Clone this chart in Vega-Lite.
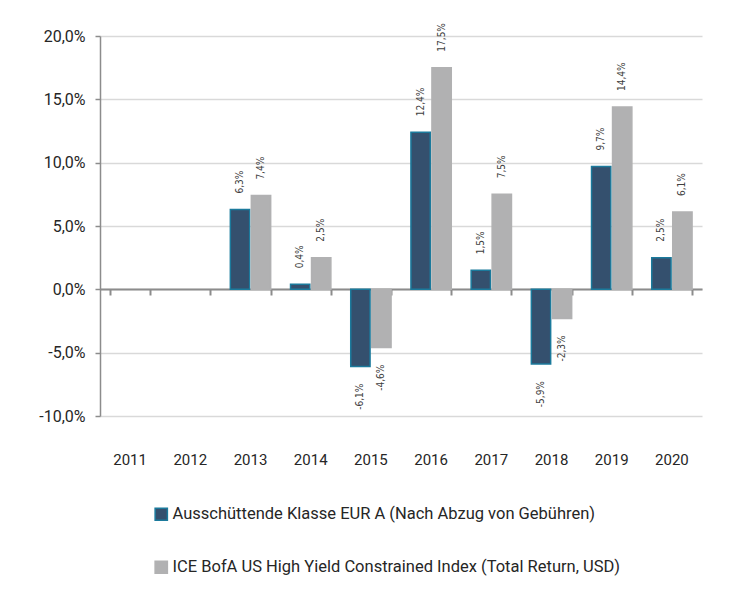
{
  "$schema": "https://vega.github.io/schema/vega-lite/v6.json",
  "width": 602,
  "height": 380,
  "autosize": {"type": "none"},
  "padding": {"left": 100, "top": 36, "right": 42, "bottom": 176},
  "config": {
    "locale": {"number": {"decimal": ",", "thousands": ".", "grouping": [3], "currency": ["", " €"], "minus": "-"}},
    "font": "Roboto",
    "view": {"stroke": null}
  },
  "data": {
    "values": [
      {"year": "2013", "series": "Ausschüttende Klasse EUR A (Nach Abzug von Gebühren)", "value": 0.063},
      {"year": "2013", "series": "ICE BofA US High Yield Constrained Index (Total Return, USD)", "value": 0.074},
      {"year": "2014", "series": "Ausschüttende Klasse EUR A (Nach Abzug von Gebühren)", "value": 0.004},
      {"year": "2014", "series": "ICE BofA US High Yield Constrained Index (Total Return, USD)", "value": 0.025},
      {"year": "2015", "series": "Ausschüttende Klasse EUR A (Nach Abzug von Gebühren)", "value": -0.061},
      {"year": "2015", "series": "ICE BofA US High Yield Constrained Index (Total Return, USD)", "value": -0.046},
      {"year": "2016", "series": "Ausschüttende Klasse EUR A (Nach Abzug von Gebühren)", "value": 0.124},
      {"year": "2016", "series": "ICE BofA US High Yield Constrained Index (Total Return, USD)", "value": 0.175},
      {"year": "2017", "series": "Ausschüttende Klasse EUR A (Nach Abzug von Gebühren)", "value": 0.015},
      {"year": "2017", "series": "ICE BofA US High Yield Constrained Index (Total Return, USD)", "value": 0.075},
      {"year": "2018", "series": "Ausschüttende Klasse EUR A (Nach Abzug von Gebühren)", "value": -0.059},
      {"year": "2018", "series": "ICE BofA US High Yield Constrained Index (Total Return, USD)", "value": -0.023},
      {"year": "2019", "series": "Ausschüttende Klasse EUR A (Nach Abzug von Gebühren)", "value": 0.097},
      {"year": "2019", "series": "ICE BofA US High Yield Constrained Index (Total Return, USD)", "value": 0.144},
      {"year": "2020", "series": "Ausschüttende Klasse EUR A (Nach Abzug von Gebühren)", "value": 0.025},
      {"year": "2020", "series": "ICE BofA US High Yield Constrained Index (Total Return, USD)", "value": 0.061}
    ]
  },
  "resolve": {"axis": {"x": "independent"}},
  "layer": [
    {
      "mark": {"type": "bar", "strokeWidth": 1.5},
      "encoding": {
        "x": {
          "field": "year", "type": "nominal",
          "scale": {"domain": ["2011","2012","2013","2014","2015","2016","2017","2018","2019","2020"], "paddingInner": 0.33, "paddingOuter": 0.165},
          "axis": {"orient": "bottom", "offset": -127, "labels": false, "title": null, "domainColor": "#8c8c8c", "domainWidth": 2, "tickColor": "#8c8c8c", "tickWidth": 2, "tickSize": 6, "tickBand": "extent", "grid": false}
        },
        "xOffset": {"field": "series", "type": "nominal", "scale": {"paddingInner": 0.08}},
        "y": {
          "field": "value", "type": "quantitative",
          "scale": {"domain": [-0.1, 0.2], "nice": false, "zero": false},
          "axis": {"values": [-0.1, -0.05, 0, 0.05, 0.1, 0.15, 0.2], "format": ".1%", "title": null, "grid": true, "gridColor": "#d9d9d9", "gridWidth": 1.5, "domainColor": "#8c8c8c", "domainWidth": 1.5, "tickColor": "#8c8c8c", "tickSize": 5, "tickWidth": 1.5, "labelPadding": 10, "labelFontSize": 16, "labelColor": "#262626"}
        },
        "fill": {
          "field": "series", "type": "nominal",
          "scale": {"range": ["#34506e", "#b1b1b2"]},
          "legend": {"orient": "none", "legendX": 53, "legendY": 470, "direction": "vertical", "title": null, "symbolType": "square", "symbolSize": 150, "labelFontSize": 16.5, "labelOffset": 3, "labelColor": "#262626", "rowPadding": 34, "labelLimit": 700, "symbolStrokeWidth": 1.5, "symbolOpacity": 1}
        },
        "stroke": {
          "field": "series", "type": "nominal",
          "scale": {"range": ["#1b7a9c", "#b1b1b2"]},
          "legend": {"orient": "none", "legendX": 53, "legendY": 470, "direction": "vertical", "title": null, "symbolType": "square", "symbolSize": 150, "labelFontSize": 16.5, "labelOffset": 3, "labelColor": "#262626", "rowPadding": 34, "labelLimit": 700, "symbolStrokeWidth": 1.5, "symbolOpacity": 1}
        }
      }
    },
    {
      "transform": [{"filter": "datum.value >= 0"}],
      "mark": {"type": "text", "angle": 270, "align": "left", "baseline": "middle", "dx": 16, "fontSize": 10, "color": "#404040", "font": "DejaVu Sans Condensed"},
      "encoding": {
        "x": {
          "field": "year", "type": "nominal",
          "scale": {"domain": ["2011","2012","2013","2014","2015","2016","2017","2018","2019","2020"], "paddingInner": 0.33, "paddingOuter": 0.165},
          "axis": {"orient": "bottom", "title": null, "domain": false, "ticks": false, "grid": false, "labelAngle": 0, "labelPadding": 36, "labelBaseline": "top", "labelFontSize": 15, "labelColor": "#262626"}
        },
        "xOffset": {"field": "series", "type": "nominal", "scale": {"paddingInner": 0.08}},
        "y": {"field": "value", "type": "quantitative"},
        "text": {"field": "value", "type": "quantitative", "format": ".1%"}
      }
    },
    {
      "transform": [{"filter": "datum.value < 0"}],
      "mark": {"type": "text", "angle": 270, "align": "right", "baseline": "middle", "dx": -17, "fontSize": 10, "color": "#404040", "font": "DejaVu Sans Condensed"},
      "encoding": {
        "x": {"field": "year", "type": "nominal", "axis": null},
        "xOffset": {"field": "series", "type": "nominal", "scale": {"paddingInner": 0.08}},
        "y": {"field": "value", "type": "quantitative"},
        "text": {"field": "value", "type": "quantitative", "format": ".1%"}
      }
    }
  ]
}
